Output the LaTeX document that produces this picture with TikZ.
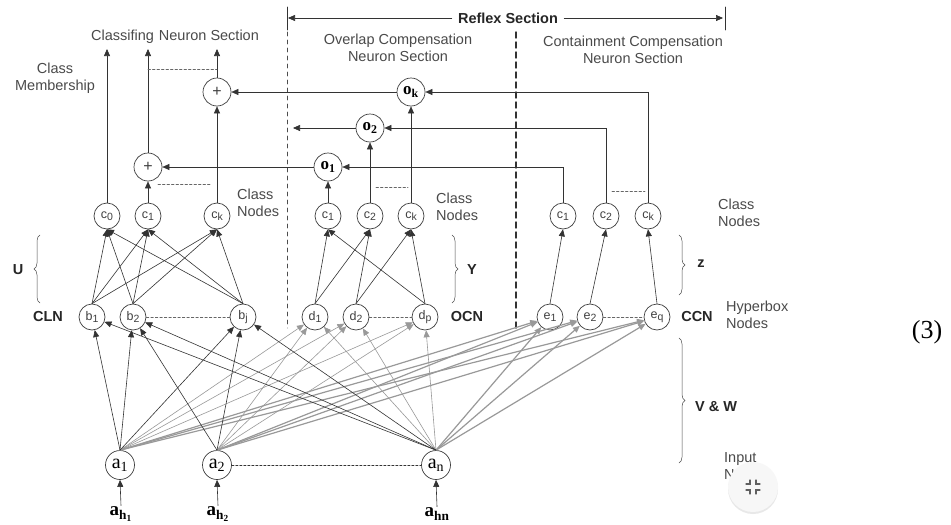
\documentclass[tikz,border=0pt]{standalone}
\usepackage{fontspec}
\setmainfont{Liberation Sans}
\newfontfamily\timesfont{Liberation Serif}
\usepackage{tikz}
\usetikzlibrary{arrows.meta,decorations.pathreplacing,shadows}
\usepackage{xcolor}

\definecolor{labgray}{HTML}{4A4A4A}
\definecolor{wiregray}{HTML}{999999}
\newcommand{\lsub}[1]{\raisebox{-2.2pt}{\fontsize{10.5}{11}\selectfont #1}}

\begin{document}
\begin{tikzpicture}[x=1pt,y=-1pt,>={Triangle[length=7pt,width=6pt]},line cap=round,
  neuron/.style={circle,draw=black!75,line width=0.7pt,fill=white,minimum size=26pt,inner sep=0pt,text=black!75,font=\fontsize{12.5}{13}\selectfont},
  bigneuron/.style={neuron,minimum size=29pt,text=black,font=\fontsize{20}{21}\timesfont},
  onode/.style={neuron,minimum size=28pt,text=black,font=\fontsize{17}{18}\timesfont\bfseries},
  lab/.style={text=labgray,font=\fontsize{14.5}{16.5}\selectfont,align=center,inner sep=1pt},
  boldlab/.style={text=black!85,font=\fontsize{14.5}{16.5}\selectfont\bfseries,inner sep=1pt},
  wire/.style={draw=black!80,line width=0.6pt,->},
  dwire/.style={draw=wiregray,line width=0.6pt,->},
  ewire/.style={draw=wiregray,line width=1.2pt,->},
  dotline/.style={black!60,line width=0.6pt,dash pattern=on 2.5pt off 2pt},
  brc/.style={black!70,line width=0.5pt,decorate,decoration={brace,amplitude=6pt}}]
\useasboundingbox (0,0) rectangle (951,525);
\fill[white] (0,0) rectangle (951,525);

% section headings
\node[lab] (clshead) at (175,37) {Classifing\hspace{5pt}Neuron Section};
\node[lab] (memb) at (55,78) {Class\\Membership};
\node[lab] (ovhead) at (398,48) {Overlap Compensation\\Neuron Section};
\node[lab] (cchead) at (633,50) {Containment Compensation\\Neuron Section};
\node[boldlab,inner xsep=6pt] (rs) at (508,18) {Reflex Section};
\coordinate (rsL) at (288,18);
\coordinate (rsR) at (723,18);
\draw[black!80,line width=0.6pt,->] (rs.west) -- (rsL);
\draw[black!80,line width=0.6pt,->] (rs.east) -- (rsR);
\draw[black!80,line width=0.8pt] (287,7) -- (287,30);
\draw[black!80,line width=0.8pt] (725,7) -- (725,30);
\draw[black!70,line width=0.7pt,dash pattern=on 4pt off 4pt] (287,32) -- (287,328);
\draw[black!80,line width=1.4pt,dash pattern=on 6pt off 4pt] (516,32) -- (516,328);

% class nodes
\node[neuron] (c0) at (107,216) {c\lsub{0}};
\node[neuron] (c1) at (148,216) {c\lsub{1}};
\node[neuron] (cK) at (217,216) {c\lsub{k}};
\node[neuron] (oc1) at (328,216) {c\lsub{1}};
\node[neuron] (oc2) at (370,216) {c\lsub{2}};
\node[neuron] (ocK) at (411,216) {c\lsub{k}};
\node[neuron] (ec1) at (563,216) {c\lsub{1}};
\node[neuron] (ec2) at (606,216) {c\lsub{2}};
\node[neuron] (ecK) at (648,216) {c\lsub{k}};
\node[lab,align=left,anchor=west] (cn1) at (236,203) {Class\\Nodes};
\node[lab,align=left,anchor=west] (cn2) at (435,207) {Class\\Nodes};
\node[lab,align=left,anchor=west] (cn3) at (717,213) {Class\\Nodes};

% sum and compensation nodes
\node[neuron,minimum size=28pt,font=\fontsize{16}{17}\selectfont] (plus1) at (148,167) {+};
\node[neuron,minimum size=28pt,font=\fontsize{16}{17}\selectfont] (plus2) at (217,92) {+};
\node[onode] (o1) at (328,167) {o\textsubscript{1}};
\node[onode] (o2) at (370,128) {o\textsubscript{2}};
\node[onode] (oK) at (411,92) {o\textsubscript{k}};

% hyperbox nodes
\node[neuron] (b1) at (92,317) {b\lsub{1}};
\node[neuron] (b2) at (133,317) {b\lsub{2}};
\node[neuron] (bj) at (243,317) {b\lsub{j}};
\node[neuron] (d1) at (315,317) {d\lsub{1}};
\node[neuron] (d2) at (356,317) {d\lsub{2}};
\node[neuron] (dp) at (425,317) {d\lsub{p}};
\node[neuron] (e1) at (550,317) {e\lsub{1}};
\node[neuron] (e2) at (590,317) {e\lsub{2}};
\node[neuron] (eq) at (657,317) {e\lsub{q}};
\node[boldlab] (cln) at (48,317) {CLN};
\node[boldlab] (ocn) at (467,317) {OCN};
\node[boldlab] (ccn) at (697,317) {CCN};
\node[lab,align=left,anchor=west] (hbn) at (725,315) {Hyperbox\\Nodes};

% input nodes
\node[bigneuron] (a1) at (120,465) {a\textsubscript{1}};
\node[bigneuron] (a2) at (217,465) {a\textsubscript{2}};
\node[bigneuron] (an) at (436,465) {a\textsubscript{n}};
\node[font=\fontsize{19}{20}\timesfont\bfseries,inner sep=1pt] (ah1) at (121,514) {a\textsubscript{h\textsubscript{1}}};
\node[font=\fontsize{19}{20}\timesfont\bfseries,inner sep=1pt] (ah2) at (218,514) {a\textsubscript{h\textsubscript{2}}};
\node[font=\fontsize{19}{20}\timesfont\bfseries,inner sep=1pt] (ahn) at (437,514) {a\textsubscript{hn}};
\node[lab,align=left,anchor=west] (inp) at (723,466) {Input\\Nodes};

% braces
\draw[brc] (40,303) -- (40,235);
\node[boldlab] (U) at (18,270) {U};
\draw[brc] (452,235) -- (452,303);
\node[boldlab] (Y) at (472,270) {Y};
\draw[brc] (679,235) -- (679,295);
\node[boldlab] (Z) at (701,264) {z};
\draw[brc] (679,338) -- (679,463);
\node[boldlab,anchor=west] (VW) at (694,407) {V \& W};

% outputs and feedback
\coordinate (out0) at (107,49);
\coordinate (out1) at (148,49);
\coordinate (outK) at (217,49);
\coordinate (o2end) at (293,128);
\draw[wire] (c0.north) -- (out0);
\draw[wire] (c1.north) -- (plus1.south);
\draw[wire] (plus1.north) -- (out1);
\draw[wire] (cK.north) -- (plus2.south);
\draw[wire] (plus2.north) -- (outK);
\draw[wire] (oc1.north) -- (o1.south);
\draw[wire] (oc2.north) -- (o2.south);
\draw[wire] (ocK.north) -- (oK.south);
\draw[wire] (ec1.north) |- (o1.east);
\draw[wire] (ec2.north) |- (o2.east);
\draw[wire] (ecK.north) |- (oK.east);
\draw[wire] (o1.west) -- (plus1.east);
\draw[wire] (o2.west) -- (o2end);
\draw[wire] (oK.west) -- (plus2.east);
\draw[dotline] (148,69) -- (217,69);
\draw[dotline] (158,184) -- (211,184);
\draw[dotline] (376,187) -- (408,187);
\draw[dotline] (612,191) -- (645,191);

% weights U, Y, Z
\foreach \s in {b1,b2,bj}
  \foreach \t in {c0,c1,cK}
    \draw[wire] (\s.north) -- (\t.south);
\draw[wire] (d1.north) -- (oc1.south);
\draw[wire] (d1.north) -- (oc2.south);
\draw[wire] (d2.north) -- (oc2.south);
\draw[wire] (d2.north) -- (ocK.south);
\draw[wire] (dp.north) -- (ocK.south);
\draw[wire] (dp.north) -- (oc1.south);
\draw[wire] (e1.north) -- (ec1.south);
\draw[wire] (e2.north) -- (ec2.south);
\draw[wire] (eq.north) -- (ecK.south);
\draw[dotline] (b2.east) -- (bj.west);
\draw[dotline] (d2.east) -- (dp.west);
\draw[dotline] (e2.east) -- (eq.west);

% weights V and W
\foreach \s in {a1,a2,an}
  \foreach \t in {d1,d2,dp}
    \draw[dwire] (\s.north) -- (\t);
\foreach \s in {a1,a2,an}
  \foreach \t in {e1,e2,eq}
    \draw[ewire] (\s.north) -- (\t);
\draw[wire] (a1.north) -- (b1);
\draw[wire] (a1.north) -- (b2);
\draw[wire] (a1.north) -- (bj);
\draw[wire] (a2.north) -- (b2);
\draw[wire] (a2.north) -- (bj);
\draw[wire] (an.north) -- (b1);
\draw[wire] (an.north) -- (b2);
\draw[wire] (an.north) -- (bj);
\draw[black!80,line width=1pt,dash pattern=on 2pt off 2pt] (a2.east) -- (an.west);
\draw[wire] (ah1.north) -- (a1.south);
\draw[wire] (ah2.north) -- (a2.south);
\draw[wire] (ahn.north) -- (an.south);

\node[font=\fontsize{26}{28}\timesfont,inner sep=0pt] (eqno) at (927,332) {(3)};

% viewer button
\node[circle,fill=gray!6,minimum size=50pt,drop shadow={opacity=0.18,shadow xshift=0pt,shadow yshift=-2pt}] (btn) at (753,487) {};
\draw[gray!75!black,line width=1.3pt] (746,484) -- (750,484) -- (750,480);
\draw[gray!75!black,line width=1.3pt] (756,480) -- (756,484) -- (760,484);
\draw[gray!75!black,line width=1.3pt] (746,490) -- (750,490) -- (750,494);
\draw[gray!75!black,line width=1.3pt] (760,490) -- (756,490) -- (756,494);
\end{tikzpicture}
\end{document}
